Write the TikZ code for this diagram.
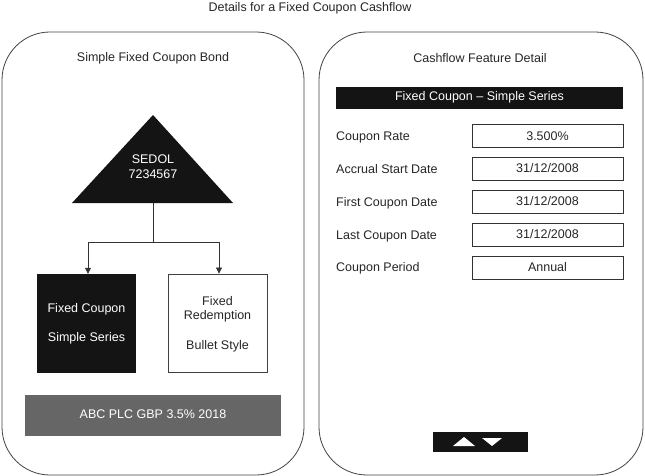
\documentclass[tikz,border=0pt]{standalone}
\usepackage{fontspec}
\setmainfont{Liberation Sans}
\usetikzlibrary{arrows.meta}
\begin{document}
\begin{tikzpicture}[x=1pt,y=-1pt,
  txt/.style={font=\fontsize{12.5}{15}\selectfont, inner sep=0pt, text=black!85},
  wtxt/.style={txt, text=white},
  panel/.style={draw=black!75, line width=0.8pt, rounded corners=48pt},
  valbox/.style={draw=black!80, line width=0.8pt, minimum width=151pt, minimum height=23pt, inner sep=0pt, font=\fontsize{12.5}{15}\selectfont, text=black!85},
  lbl/.style={txt, anchor=base west},
  conn/.style={draw=black!80, line width=0.7pt},
  arr/.style={conn, -{Triangle[width=6pt,length=6pt]}}]
\useasboundingbox (0,0) rectangle (645,476);
% title
\node[txt] (title) at (310,8) {Details for a Fixed Coupon Cashflow};
% panels
\draw[panel] (2,32) rectangle (304,475);
\draw[panel] (319,32) rectangle (643,475);
% left panel
\node[txt] (lhead) at (153,58) {Simple Fixed Coupon Bond};
\fill[black!92] (72,203) -- (153,115) -- (233,203) -- cycle;
\node[wtxt, align=center, font=\fontsize{12.5}{15}\selectfont] (sedol) at (153,167) {SEDOL\\7234567};
\coordinate (tribase) at (153,203);
\coordinate (split) at (153,242);
\node[fill=black!92, minimum width=99pt, minimum height=99pt, inner sep=0pt] (fc) at (86.5,323.5) {};
\node[wtxt] (fc1) at (86.5,309) {Fixed Coupon};
\node[wtxt] (fc2) at (86.5,338) {Simple Series};
\node[draw=black!75, line width=0.8pt, fill=white, minimum width=99pt, minimum height=98pt, inner sep=0pt] (fr) at (217.5,323) {};
\node[txt] (fr1) at (217.5,301) {Fixed};
\node[txt] (fr2) at (217.5,316) {Redemption};
\node[txt] (fr3) at (217.5,346) {Bullet Style};
\draw[conn] (tribase) -- (split);
\draw[arr] (split) -| (fc.north -| 88,0);
\draw[arr] (split) -| (fr.north -| 219,0);
\node[fill=black!60, minimum width=256pt, minimum height=41pt, inner sep=0pt] (bar) at (153,415.5) {};
\node[wtxt] (bartxt) at (153,414) {ABC PLC GBP 3.5\% 2018};
% right panel
\node[txt] (rhead) at (480,58) {Cashflow Feature Detail};
\node[fill=black!92, minimum width=287pt, minimum height=22pt, inner sep=0pt] (hbar) at (479.5,98) {};
\node[wtxt] (htxt) at (479.5,97.5) {Fixed Coupon -- Simple Series};
\node[lbl] (l1) at (336,140) {Coupon Rate};
\node[lbl] (l2) at (336,173) {Accrual Start Date};
\node[lbl] (l3) at (336,206) {First Coupon Date};
\node[lbl] (l4) at (336,239) {Last Coupon Date};
\node[lbl] (l5) at (336,271.5) {Coupon Period};
\node[valbox] (v1) at (547.5,136) {3.500\%};
\node[valbox] (v2) at (547.5,168.5) {\raisebox{-2pt}{31/12/2008}};
\node[valbox] (v3) at (547.5,201.5) {\raisebox{-2pt}{31/12/2008}};
\node[valbox] (v4) at (547.5,234.5) {\raisebox{-2pt}{31/12/2008}};
\node[valbox] (v5) at (547.5,267.5) {Annual};
% navigation
\node[fill=black!92, minimum width=95pt, minimum height=20pt, inner sep=0pt] (nav) at (480.5,442) {};
\fill[white] (453,446) -- (475,446) -- (464,437) -- cycle;
\fill[white] (482,438) -- (502,438) -- (492,446) -- cycle;
\end{tikzpicture}
\end{document}
